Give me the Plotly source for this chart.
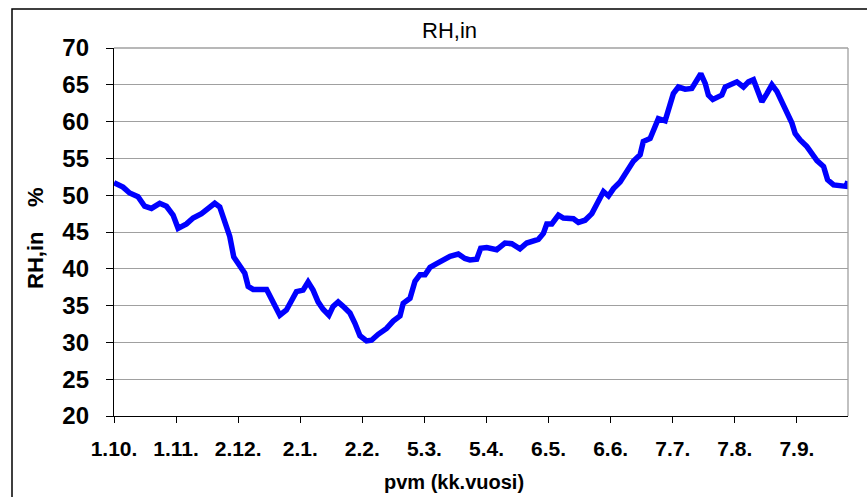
import plotly.graph_objects as go
import pandas as pd

start_date = "2006-10-01"

# day offsets from 1.10. and RH,in values (%)
days = [0, 4.5, 7.8, 12, 15.3, 18.7, 22.8, 26.2, 29.5, 32, 36.2, 39.5, 43.7, 47.8, 50.3,
        52.8, 55.3, 57.8, 59.8, 62.8, 65.3, 67, 69.5, 76.2, 79.4, 82.8, 86.1, 88.6, 91.1,
        94.4, 96.9, 99.4, 101.9, 104.4, 107.3, 109.4, 111.9, 114.4, 117.8, 120.3, 122.8,
        126.1, 128.6, 131.9, 136.1, 139.4, 142.8, 144.4, 147.8, 150.3, 152.8, 155.3, 157.8,
        161.1, 164.4, 167.8, 171.9, 175.2, 177.7, 181.1, 183.1, 186.1, 191.1, 195.2, 198.6,
        202.7, 206.1, 209.4, 211.9, 214.4, 216.1, 218.6, 221.9, 224.4, 229.4, 231.9, 235.2,
        238.6, 241.1, 242.7, 244.4, 246.9, 249.4, 252.7, 256, 259.3, 262.7, 264.3, 267.7,
        270.2, 271.8, 275.2, 277.3, 279.3, 281.8, 285.2, 288.5, 291, 293, 295.2, 296.8, 299,
        301.8, 303.5, 305.2, 308.5, 311, 314.3, 316.8, 319.3, 321, 323.5, 326, 328.5, 331,
        333.5, 336, 338.5, 340.1, 342.6, 346, 348.5, 351, 354.3, 356.3, 359.3, 362.6, 365.6,
        366.4]
rh_values = [51.7, 51.1, 50.3, 49.8, 48.5, 48.2, 48.9, 48.5, 47.3, 45.5, 46.1, 46.9, 47.5,
             48.4, 48.9, 48.4, 46.2, 44.4, 41.6, 40.5, 39.4, 37.6, 37.2, 37.2, 35.5, 33.7,
             34.4, 35.5, 36.9, 37.1, 38.2, 37.1, 35.5, 34.5, 33.7, 34.9, 35.5, 34.9, 34.0,
             32.6, 30.9, 30.2, 30.3, 31.1, 31.9, 32.9, 33.6, 35.3, 36.0, 38.3, 39.2, 39.2,
             40.2, 40.7, 41.3, 41.7, 42.0, 41.4, 41.2, 41.3, 42.8, 42.9, 42.6, 43.5, 43.4,
             42.7, 43.5, 43.8, 44.0, 44.8, 46.1, 46.1, 47.3, 46.9, 46.8, 46.3, 46.6, 47.5,
             48.8, 50.0, 50.5, 49.9, 50.9, 51.8, 53.2, 54.6, 55.5, 57.3, 57.7, 59.5, 60.4,
             60.1, 62.0, 63.8, 64.7, 64.4, 64.5, 65.7, 66.5, 65.2, 63.6, 63.0, 63.4, 63.6,
             64.7, 65.2, 65.4, 64.7, 65.4, 65.7, 64.3, 62.7, 63.8, 65.0, 64.1, 62.7, 61.1,
             59.8, 58.4, 57.5, 56.6, 55.7, 54.7, 53.9, 52.1, 51.4, 51.2, 51.2, 51.9]

tick_dates = ["2006-10-01", "2006-11-01", "2006-12-02", "2007-01-02", "2007-02-02",
              "2007-03-05", "2007-04-05", "2007-05-06", "2007-06-06", "2007-07-07",
              "2007-08-07", "2007-09-07"]
tick_labels = ["1.10.", "1.11.", "2.12.", "2.1.", "2.2.", "5.3.", "5.4.", "6.5.",
               "6.6.", "7.7.", "7.8.", "7.9."]
y_ticks = [20, 25, 30, 35, 40, 45, 50, 55, 60, 65, 70]

title_text = "RH,in"
y_title = "RH,in\u00a0\u00a0\u00a0\u00a0%"
x_title = "pvm (kk.vuosi)"

t0 = pd.Timestamp(start_date)
x_dates = [t0 + pd.Timedelta(days=d) for d in days]
x_end = t0 + pd.Timedelta(days=366.5)

FONT = "Arial, Liberation Sans, sans-serif"

fig = go.Figure()
fig.add_trace(go.Scatter(
    x=x_dates, y=rh_values, mode="lines",
    line=dict(color="#0000FF", width=5.5, shape="linear"),
    showlegend=False, hoverinfo="skip",
))

fig.update_layout(
    width=867, height=497,
    margin=dict(l=114, r=19, t=48, b=81, autoexpand=False),
    paper_bgcolor="white", plot_bgcolor="white",
    font=dict(family=FONT, color="black"),
    showlegend=False,
    xaxis=dict(
        type="date", range=[t0, x_end], automargin=False,
        tickmode="array", tickvals=tick_dates, ticktext=tick_labels,
        tickangle=0,
        showgrid=False, zeroline=False,
        showline=True, linecolor="black", linewidth=1.3,
        ticks="outside", ticklen=6, tickwidth=1.3, tickcolor="black",
        tickfont=dict(family=FONT, size=21, color="black", weight="bold"),
        ticklabelstandoff=8,
    ),
    yaxis=dict(
        range=[20, 70], tickmode="array", tickvals=y_ticks, automargin=False,
        showgrid=True, gridcolor="#a0a0a0", gridwidth=1.3,
        zeroline=False,
        showline=True, linecolor="black", linewidth=1.3,
        ticks="outside", ticklen=7, tickwidth=1.3, tickcolor="black",
        tickfont=dict(family=FONT, size=24, color="black", weight="bold"),
        ticklabelstandoff=12,
    ),
    shapes=[
        dict(type="line", xref="paper", yref="paper", x0=1, x1=1, y0=0, y1=1,
             line=dict(color="#a0a0a0", width=1.3)),
        dict(type="line", xref="paper", yref="paper", x0=0, x1=1, y0=1, y1=1,
             line=dict(color="#a0a0a0", width=1.3)),
        dict(type="rect", xref="paper", yref="paper",
             x0=(12 - 114) / 734, x1=(880 - 114) / 734,
             y0=(416 - 510) / 368, y1=(416 - 9) / 368,
             line=dict(color="black", width=1.5), fillcolor="rgba(0,0,0,0)",
             layer="below"),
    ],
    annotations=[
        dict(text=title_text, xref="paper", yref="paper",
             x=(449 - 114) / 734, y=(416 - 31) / 368, showarrow=False,
             xanchor="center", yanchor="middle",
             font=dict(family=FONT, size=22, color="black")),
        dict(text=y_title, xref="paper", yref="paper",
             x=(35 - 114) / 734, y=(416 - 239) / 368, showarrow=False,
             xanchor="center", yanchor="middle", textangle=-90,
             font=dict(family=FONT, size=22, color="black", weight="bold")),
        dict(text=x_title, xref="paper", yref="paper",
             x=(454 - 114) / 734, y=(416 - 482) / 368, showarrow=False,
             xanchor="center", yanchor="middle",
             font=dict(family=FONT, size=20, color="black", weight="bold")),
    ],
)

fig.write_html("out.html", config={"displayModeBar": False},
               post_script="document.body.style.margin='0';")
